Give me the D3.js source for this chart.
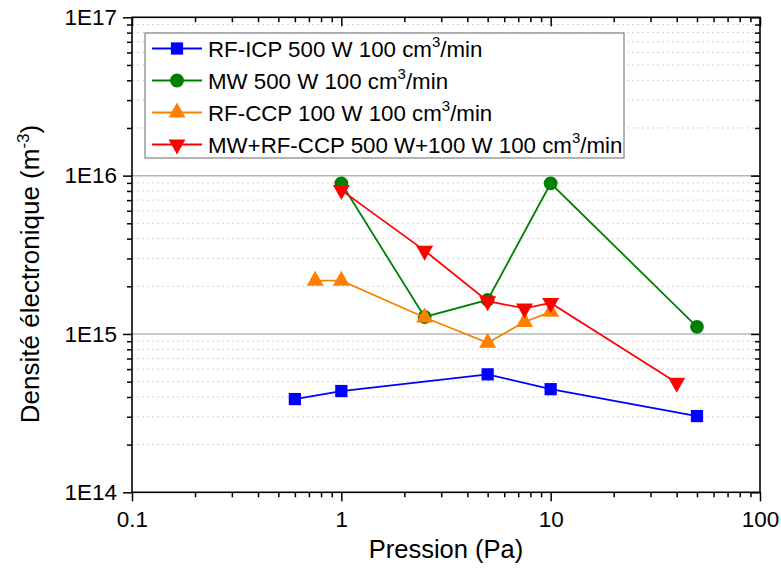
<!DOCTYPE html>
<html><head><meta charset="utf-8">
<script src="https://cdn.jsdelivr.net/npm/d3@7"></script>
<style>body{margin:0;background:#fff}svg{display:block;font-family:"Liberation Sans",Arial,sans-serif}</style>
</head><body>
<svg id="c" width="781" height="573"></svg>
<script>
const seriesNames = ["RF-ICP 500 W 100 cm", "MW 500 W 100 cm", "RF-CCP 100 W 100 cm", "MW+RF-CCP 500 W+100 W 100 cm"];
const seriesColors = ["#0000FF", "#008000", "#FF8000", "#FF0000"];
const seriesSymbols = ["square", "circle", "triangleUp", "triangleDown"];
const icpX = [0.6, 1, 5, 10, 50];
const icpY = [3.88e14, 4.36e14, 5.56e14, 4.48e14, 3.03e14];
const mwX = [1, 2.5, 5, 10, 50];
const mwY = [8.94e15, 1.28e15, 1.64e15, 8.94e15, 1.11e15];
const ccpX = [0.75, 1, 2.5, 5, 7.5, 10];
const ccpY = [2.17e15, 2.17e15, 1.27e15, 8.8e14, 1.19e15, 1.38e15];
const mixX = [1, 2.5, 5, 7.5, 10, 40];
const mixY = [8.1e15, 3.36e15, 1.61e15, 1.45e15, 1.57e15, 4.92e14];
const xTicks = [0.1, 1, 10, 100];
const xTickLabels = ["0.1", "1", "10", "100"];
const yTicks = [1e14, 1e15, 1e16, 1e17];
const yTickLabels = ["1E14", "1E15", "1E16", "1E17"];
const xTitle = "Pression (Pa)";
const yTitle = "Densité électronique (m";

const series = [
  {x: icpX, y: icpY}, {x: mwX, y: mwY}, {x: ccpX, y: ccpY}, {x: mixX, y: mixY}
].map((s, i) => ({name: seriesNames[i], color: seriesColors[i], symbol: seriesSymbols[i],
  pts: s.x.map((v, j) => [v, s.y[j]])}));

const L = 132, R = 760, T = 17.3, B = 492.3;
const svg = d3.select("#c");
const x = d3.scaleLog().domain([0.1, 100]).range([L, R]);
const y = d3.scaleLog().domain([1e14, 1e17]).range([B, T]);

const minorX = [], minorY = [];
for (let d = 0.1; d < 100; d *= 10) for (let k = 2; k <= 9; k++) minorX.push(d * k);
for (let d = 1e14; d < 1e17; d *= 10) for (let k = 2; k <= 9; k++) minorY.push(d * k);

svg.append("g").selectAll("line").data(minorY).join("line")
  .attr("x1", L).attr("x2", R).attr("y1", d => y(d)).attr("y2", d => y(d))
  .attr("stroke", "#d4d4d4").attr("stroke-width", 1).attr("stroke-dasharray", "2,3");
svg.append("g").selectAll("line").data([1e15, 1e16]).join("line")
  .attr("x1", L).attr("x2", R).attr("y1", d => y(d)).attr("y2", d => y(d))
  .attr("stroke", "#b4b4b4").attr("stroke-width", 1.5);

const fmtX = d => { const i = xTicks.findIndex(t => Math.abs(t - d) / d < 1e-6); return i >= 0 ? xTickLabels[i] : ""; };
const fmtY = d => { const i = yTicks.findIndex(t => Math.abs(t - d) / d < 1e-6); return i >= 0 ? yTickLabels[i] : ""; };

function styleAxis(g) {
  g.select(".domain").remove();
  g.selectAll("line").attr("stroke", "#000").attr("stroke-width", 1.5);
  g.selectAll("text").attr("font-size", 22.5).attr("fill", "#000").attr("font-family", '"Liberation Sans",Arial,sans-serif');
}
svg.append("g").attr("transform", `translate(0,${B})`)
  .call(d3.axisBottom(x).tickValues(xTicks).tickFormat(fmtX).tickSize(9).tickPadding(10)).call(styleAxis);
svg.append("g").attr("transform", `translate(0,${B})`)
  .call(d3.axisBottom(x).tickValues(minorX).tickFormat("").tickSize(5)).call(styleAxis);
svg.append("g").attr("transform", `translate(0,${T})`)
  .call(d3.axisBottom(x).tickValues(xTicks).tickFormat("").tickSize(9)).call(styleAxis);
svg.append("g").attr("transform", `translate(0,${T})`)
  .call(d3.axisBottom(x).tickValues(minorX).tickFormat("").tickSize(5)).call(styleAxis);
svg.append("g").attr("transform", `translate(${L},0)`)
  .call(d3.axisLeft(y).tickValues(yTicks).tickFormat(fmtY).tickSize(9).tickPadding(6)).call(styleAxis);
svg.append("g").attr("transform", `translate(${L},0)`)
  .call(d3.axisLeft(y).tickValues(minorY).tickFormat("").tickSize(5)).call(styleAxis);
svg.append("g").attr("transform", `translate(${R},0)`)
  .call(d3.axisLeft(y).tickValues(yTicks).tickFormat("").tickSize(9)).call(styleAxis);
svg.append("g").attr("transform", `translate(${R},0)`)
  .call(d3.axisLeft(y).tickValues(minorY).tickFormat("").tickSize(5)).call(styleAxis);

svg.append("rect").attr("x", L).attr("y", T).attr("width", R - L).attr("height", B - T)
  .attr("fill", "none").attr("stroke", "#000").attr("stroke-width", 1.6);

svg.append("text").attr("x", (L + R) / 2).attr("y", 558).attr("text-anchor", "middle")
  .attr("font-size", 25.5).text(xTitle);
const yt = svg.append("text").attr("transform", `translate(39,274) rotate(-90)`)
  .attr("text-anchor", "middle").attr("font-size", 26);
yt.append("tspan").text(yTitle);
yt.append("tspan").attr("dy", -10).attr("font-size", 17).text("-3");
yt.append("tspan").attr("dy", 10).text(")");

function sym(s) {
  if (s === "square") return d3.symbol(d3.symbolSquare, 150)();
  if (s === "circle") return d3.symbol(d3.symbolCircle, 150)();
  const w = 17, h = 15;
  if (s === "triangleUp") return `M0,${-h*2/3}L${w/2},${h/3}L${-w/2},${h/3}Z`;
  return `M0,${h*2/3}L${w/2},${-h/3}L${-w/2},${-h/3}Z`;
}

const line = d3.line().x(d => x(d[0])).y(d => y(d[1]));
series.forEach(s => {
  const g = svg.append("g");
  g.append("path").attr("d", line(s.pts)).attr("fill", "none").attr("stroke", s.color).attr("stroke-width", 1.8);
  g.selectAll("path.m").data(s.pts).join("path").attr("class", "m")
    .attr("transform", d => `translate(${x(d[0])},${y(d[1])})`)
    .attr("d", sym(s.symbol)).attr("fill", s.color);
});

const lg = svg.append("g");
lg.append("rect").attr("x", 145).attr("y", 33).attr("width", 479).attr("height", 125)
  .attr("fill", "#fff").attr("stroke", "#808080").attr("stroke-width", 1.2);
series.forEach((s, i) => {
  const cy = 48.5 + i * 32;
  lg.append("line").attr("x1", 152).attr("x2", 202).attr("y1", cy).attr("y2", cy)
    .attr("stroke", s.color).attr("stroke-width", 1.8);
  lg.append("path").attr("transform", `translate(177,${cy})`).attr("d", sym(s.symbol)).attr("fill", s.color);
  const t = lg.append("text").attr("x", 208).attr("y", cy + 8).attr("font-size", 22.3);
  t.append("tspan").text(s.name);
  t.append("tspan").attr("dy", -10).attr("font-size", 15).text("3");
  t.append("tspan").attr("dy", 10).text("/min");
});
</script>
</body></html>
